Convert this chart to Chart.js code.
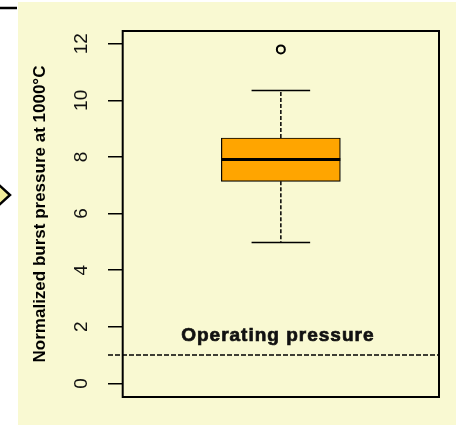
<!DOCTYPE html>
<html>
<head>
<meta charset="utf-8">
<script src="https://cdn.jsdelivr.net/npm/chart.js@4.4.1/dist/chart.umd.min.js"></script>
<style>
  html, body { margin: 0; padding: 0; background: #fff; }
  canvas { display: block; }
</style>
</head>
<body>
<canvas id="chart" width="456" height="425"></canvas>
<script>
// values
const yTicks = [0, 2, 4, 6, 8, 10, 12]
const yTitle = 'Normalized burst pressure at 1000°C'
const q1 = [7.14]
const median = [7.91]
const q3 = [8.67]
const whiskerLow = [4.98]
const whiskerHigh = [10.35]
const outliers = [11.8]
const operatingPressure = [1.0]
const operatingLabel = 'Operating pressure'

// box geometry in x units
const pos = 1
const capHalf = 0.1
const boxHalf = 0.203
const labelAt = 1.7

const panel = '#f9f9d2'

const seg = (a, b) => [a, b]

const background = {
  id: 'background',
  beforeDraw(chart) {
    const ctx = chart.ctx
    ctx.save()
    ctx.fillStyle = '#fff'
    ctx.fillRect(0, 0, chart.width, chart.height)
    ctx.fillStyle = panel
    ctx.fillRect(18, 2, chart.width - 18, chart.height - 2)
    // leftovers of the neighbouring figure
    ctx.strokeStyle = '#000'
    ctx.lineWidth = 2.5
    ctx.beginPath()
    ctx.moveTo(0, 8)
    ctx.lineTo(17, 8)
    ctx.stroke()
    ctx.fillStyle = '#f3ee9a'
    ctx.beginPath()
    ctx.moveTo(-2, 184)
    ctx.lineTo(10, 195)
    ctx.lineTo(-2, 206)
    ctx.closePath()
    ctx.fill()
    ctx.stroke()
    ctx.restore()
  }
}

const overlay = {
  id: 'overlay',
  afterDraw(chart) {
    const {ctx, chartArea: a, scales: {x, y}} = chart
    ctx.save()
    ctx.strokeStyle = '#000'
    ctx.lineWidth = 2
    ctx.strokeRect(a.left, a.top, a.right - a.left, a.bottom - a.top)

    const py = y.getPixelForValue(operatingPressure[0])
    ctx.lineWidth = 1.5
    ctx.setLineDash([5, 2])
    ctx.beginPath()
    ctx.moveTo(a.left - y.options.grid.tickLength, py)
    ctx.lineTo(a.right, py)
    ctx.stroke()
    ctx.setLineDash([])

    ctx.fillStyle = '#111'
    ctx.strokeStyle = '#111'
    ctx.lineWidth = 0.7
    ctx.font = 'bold 19px "Liberation Sans", Arial, sans-serif'
    ctx.letterSpacing = '1px'
    ctx.textAlign = 'center'
    ctx.textBaseline = 'middle'
    const tx = x.getPixelForValue(pos) - 3
    const ty = y.getPixelForValue(labelAt)
    ctx.fillText(operatingLabel, tx, ty)
    ctx.strokeText(operatingLabel, tx, ty)
    ctx.restore()
  }
}

const line = (data, extra) => Object.assign({
  type: 'line',
  data: data,
  borderColor: '#000',
  borderWidth: 1.5,
  pointRadius: 0,
  fill: false,
  tension: 0,
  borderCapStyle: 'butt',
  order: 1
}, extra)

new Chart(document.getElementById('chart'), {
  type: 'bar',
  data: {
    datasets: [
      {
        label: 'box',
        data: [{x: pos, y: [q1[0], q3[0]]}],
        backgroundColor: '#ffa500',
        borderColor: '#000',
        borderWidth: 1.2,
        borderSkipped: false,
        barThickness: 119,
        order: 3
      },
      line(seg({x: pos, y: q3[0]}, {x: pos, y: whiskerHigh[0]}), {borderDash: [4, 2]}),
      line(seg({x: pos, y: q1[0]}, {x: pos, y: whiskerLow[0]}), {borderDash: [4, 2]}),
      line(seg({x: pos - capHalf, y: whiskerHigh[0]}, {x: pos + capHalf, y: whiskerHigh[0]})),
      line(seg({x: pos - capHalf, y: whiskerLow[0]}, {x: pos + capHalf, y: whiskerLow[0]})),
      line(seg({x: pos - boxHalf, y: median[0]}, {x: pos + boxHalf, y: median[0]}), {borderWidth: 3, order: 0}),
      {
        type: 'scatter',
        data: outliers.map(v => ({x: pos, y: v})),
        pointStyle: 'circle',
        pointRadius: 4,
        borderColor: '#000',
        borderWidth: 2,
        backgroundColor: 'rgba(0,0,0,0)',
        order: 0
      }
    ]
  },
  options: {
    responsive: false,
    animation: false,
    layout: { padding: { left: 18, top: 31, right: 17, bottom: 28 } },
    plugins: { legend: { display: false }, tooltip: { enabled: false } },
    scales: {
      x: { type: 'linear', min: 0.46, max: 1.54, offset: false, display: false },
      y: {
        min: -0.48,
        max: 12.45,
        afterBuildTicks: s => { s.ticks = yTicks.map(v => ({value: v})) },
        afterFit: s => { s.width = 104.7 },
        grid: { drawOnChartArea: false, tickLength: 14.7, color: '#000', lineWidth: 1.5 },
        border: { display: false },
        ticks: {
          minRotation: 90,
          maxRotation: 90,
          crossAlign: 'center',
          padding: 16,
          color: '#111',
          font: { family: '"Liberation Sans", Arial, sans-serif', size: 19 }
        },
        title: {
          display: true,
          text: yTitle,
          color: '#000',
          padding: { top: 12, bottom: 0 },
          font: { family: '"Liberation Sans", Arial, sans-serif', size: 17, weight: 'bold' }
        }
      }
    }
  },
  plugins: [background, overlay]
})
</script>
</body>
</html>
